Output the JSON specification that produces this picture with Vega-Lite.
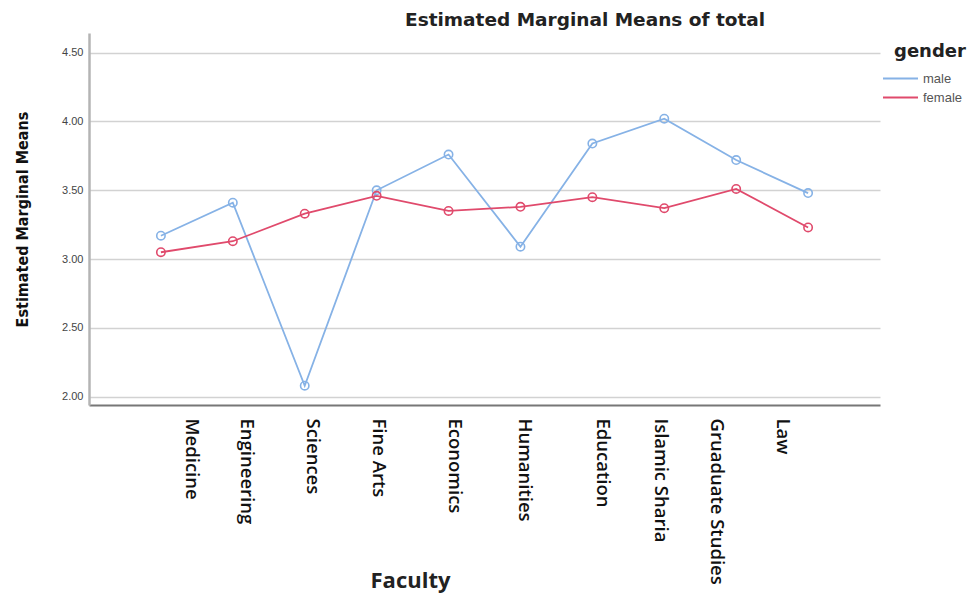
{
  "$schema": "https://vega.github.io/schema/vega-lite/v6.json",
  "autosize": "none",
  "width": 791,
  "height": 372,
  "padding": {"left": 89, "top": 33, "right": 99, "bottom": 189},
  "background": "white",
  "title": {
    "text": "Estimated Marginal Means of total",
    "anchor": "start",
    "frame": "group",
    "dx": 316,
    "offset": 4,
    "font": "DejaVu Sans",
    "fontSize": 18.5,
    "fontWeight": "bold",
    "color": "#222"
  },
  "data": {
    "values": [
      {"faculty": "Medicine", "gender": "male", "mean": 3.17},
      {"faculty": "Engineering", "gender": "male", "mean": 3.41},
      {"faculty": "Sciences", "gender": "male", "mean": 2.08},
      {"faculty": "Fine Arts", "gender": "male", "mean": 3.50},
      {"faculty": "Economics", "gender": "male", "mean": 3.76},
      {"faculty": "Humanities", "gender": "male", "mean": 3.09},
      {"faculty": "Education", "gender": "male", "mean": 3.84},
      {"faculty": "Islamic Sharia", "gender": "male", "mean": 4.02},
      {"faculty": "Gruaduate Studies", "gender": "male", "mean": 3.72},
      {"faculty": "Law", "gender": "male", "mean": 3.48},
      {"faculty": "Medicine", "gender": "female", "mean": 3.05},
      {"faculty": "Engineering", "gender": "female", "mean": 3.13},
      {"faculty": "Sciences", "gender": "female", "mean": 3.33},
      {"faculty": "Fine Arts", "gender": "female", "mean": 3.46},
      {"faculty": "Economics", "gender": "female", "mean": 3.35},
      {"faculty": "Humanities", "gender": "female", "mean": 3.38},
      {"faculty": "Education", "gender": "female", "mean": 3.45},
      {"faculty": "Islamic Sharia", "gender": "female", "mean": 3.37},
      {"faculty": "Gruaduate Studies", "gender": "female", "mean": 3.51},
      {"faculty": "Law", "gender": "female", "mean": 3.23}
    ]
  },
  "mark": {
    "type": "line",
    "strokeWidth": 1.8,
    "point": {"filled": false, "size": 70, "strokeWidth": 1.6}
  },
  "encoding": {
    "x": {
      "field": "faculty",
      "type": "nominal",
      "sort": ["Medicine", "Engineering", "Sciences", "Fine Arts", "Economics", "Humanities", "Education", "Islamic Sharia", "Gruaduate Studies", "Law"],
      "scale": {"type": "point", "padding": 1.06},
      "axis": {
        "title": "Faculty",
        "titleFont": "Open Sans",
        "titleFontSize": 22,
        "titleFontWeight": "bold",
        "titleColor": "#222",
        "titleX": 321,
        "titleY": 175,
        "titleBaseline": "middle",
        "titleAlign": "center",
        "labelAngle": 90,
        "labelAlign": "left",
        "labelBaseline": "middle",
        "labelFont": "Open Sans",
        "labelFontSize": 18.5,
        "labelFontWeight": 600,
        "labelColor": "#111",
        "labelPadding": 13,
        "labelOverlap": false,
        "labelOffset": {
          "condition": [
            {"test": "datum.value == 'Medicine'", "value": 31},
            {"test": "datum.value == 'Engineering'", "value": 14},
            {"test": "datum.value == 'Sciences'", "value": 8},
            {"test": "datum.value == 'Fine Arts'", "value": 2},
            {"test": "datum.value == 'Economics'", "value": 6},
            {"test": "datum.value == 'Humanities'", "value": 4},
            {"test": "datum.value == 'Education'", "value": 10},
            {"test": "datum.value == 'Islamic Sharia'", "value": -4},
            {"test": "datum.value == 'Gruaduate Studies'", "value": -20},
            {"test": "datum.value == 'Law'", "value": -26}
          ],
          "value": 0
        },
        "ticks": false,
        "grid": false,
        "domainColor": "#777",
        "domainWidth": 2
      }
    },
    "y": {
      "field": "mean",
      "type": "quantitative",
      "scale": {"domain": [1.94, 4.643], "nice": false, "zero": false},
      "axis": {
        "title": "Estimated Marginal Means",
        "titleFont": "Liberation Sans Narrow, DejaVu Sans Condensed, sans-serif",
        "titleFontSize": 16,
        "titleFontWeight": "bold",
        "titleColor": "#111",
        "titleX": -67,
        "titleY": 186,
        "titleAngle": -90,
        "titleBaseline": "middle",
        "titleAlign": "center",
        "values": [2, 2.5, 3, 3.5, 4, 4.5],
        "format": ".2f",
        "labelFont": "Liberation Sans",
        "labelFontSize": 11,
        "labelColor": "#444",
        "labelPadding": 6,
        "ticks": false,
        "grid": true,
        "gridColor": "#d2d2d2",
        "gridWidth": 1.5,
        "domainColor": "#b4b4b4",
        "domainWidth": 2.5
      }
    },
    "color": {
      "field": "gender",
      "type": "nominal",
      "scale": {"domain": ["male", "female"], "range": ["#86b2e6", "#e04a6c"]},
      "legend": {
        "orient": "none",
        "legendX": 805,
        "legendY": 10,
        "title": "gender",
        "titleFont": "DejaVu Sans",
        "titleFontSize": 18,
        "titleFontWeight": "bold",
        "titleColor": "#222",
        "titlePadding": 11,
        "labelFont": "Liberation Sans",
        "labelFontSize": 13,
        "labelColor": "#555",
        "labelOffset": 16,
        "symbolType": "M-3.5,0H3.5",
        "symbolSize": 100,
        "symbolStrokeWidth": 2,
        "rowPadding": 5
      }
    }
  },
  "config": {"view": {"stroke": null}}
}
